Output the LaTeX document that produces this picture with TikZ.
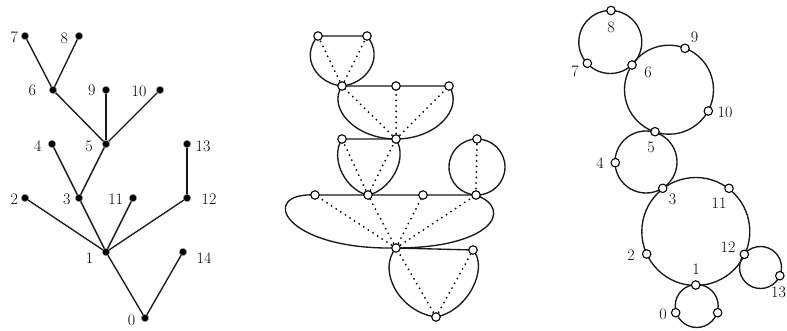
\documentclass[tikz,border=0pt]{standalone}
\begin{document}
\begin{tikzpicture}[x=1pt,y=-1pt,
  bdot/.style={circle,fill=black,draw=black!35,line width=0.5pt,inner sep=0pt,minimum size=7.5pt},
  wdot/.style={circle,fill=white,draw=black,line width=1.1pt,inner sep=0pt,minimum size=8.5pt},
  lab/.style={inner sep=0pt,font=\fontsize{16}{16}\selectfont},
  edge/.style={line width=1.35pt,black!90},
  dot/.style={line width=2pt,dash pattern=on 0pt off 5.5pt,line cap=round,black},
  line join=round]
\useasboundingbox (0,0) rectangle (787,331);
% ---------- left tree ----------
\coordinate (t7) at (25,36);
\coordinate (t8) at (79,36);
\coordinate (t6) at (53,90);
\coordinate (t9) at (106,90);
\coordinate (t10) at (160,90);
\coordinate (t5) at (106,144);
\coordinate (t4) at (52,144);
\coordinate (t13) at (187,144);
\coordinate (t2) at (25,198);
\coordinate (t3) at (79,198);
\coordinate (t11) at (133,198);
\coordinate (t12) at (187,198);
\coordinate (t1) at (106,252);
\coordinate (t14) at (183,252);
\coordinate (t0) at (145,318);
\foreach \a/\b in {7/6,8/6,6/5,9/5,10/5,5/3,4/3,3/1,2/1,11/1,12/1,13/12,1/0,14/0}
  \draw[edge] (t\a) -- (t\b);
\foreach \n in {0,...,14} \node[bdot] (nt\n) at (t\n) {};
\node[lab] (lt7) at (14.3,37.5) {7};
\node[lab] (lt8) at (64.3,38) {8};
\node[lab] (lt6) at (32.3,90.3) {6};
\node[lab] (lt9) at (91.7,90.3) {9};
\node[lab] (lt10) at (139,91) {10};
\node[lab] (lt4) at (37.7,146.3) {4};
\node[lab] (lt5) at (89,146.7) {5};
\node[lab] (lt13) at (203,146.7) {13};
\node[lab] (lt2) at (14.3,199.5) {2};
\node[lab] (lt3) at (66.7,199.5) {3};
\node[lab] (lt11) at (115.7,199.5) {11};
\node[lab] (lt12) at (209,199.5) {12};
\node[lab] (lt1) at (89.5,257.8) {1};
\node[lab] (lt14) at (204,257.8) {14};
\node[lab] (lt0) at (131.5,320) {0};
% ---------- middle ----------
\coordinate (A) at (318,36);
\coordinate (B) at (367,36);
\coordinate (C) at (342,86);
\coordinate (D) at (396,86);
\coordinate (E) at (449,86);
\coordinate (F) at (396,139);
\coordinate (G) at (342,139);
\coordinate (H) at (477,139);
\coordinate (I) at (315,195);
\coordinate (J) at (368,195);
\coordinate (K) at (423,195);
\coordinate (L) at (476,195);
\coordinate (M) at (396,248);
\coordinate (N) at (473,250);
\coordinate (O) at (436,317);
% dotted
\foreach \a/\b in {C/A,C/B,F/C,F/D,F/E,J/G,J/F,H/L,M/I,M/J,M/K,M/L,O/M,O/N}
  \draw[dot] (\a) -- (\b);
% solid
\draw[edge] (A) -- (B) .. controls (385,58) and (366,84) .. (C) .. controls (318,84) and (299,58) .. (A);
\draw[edge] (C) -- (D) -- (E) .. controls (464,108) and (437,139) .. (F) .. controls (355,139) and (327,108) .. (C);
\draw[edge] (G) -- (F) .. controls (409,160) and (389,191) .. (J) .. controls (347,191) and (329,160) .. (G);
\draw[edge] (477,167) circle (28);
\draw[edge] (I) -- (J) -- (K) -- (L) .. controls (515,210) and (490,248) .. (M) .. controls (282,250) and (258,192) .. (I);
\draw[edge] (M) -- (N) .. controls (489,268) and (468,311) .. (O) .. controls (399,312) and (377,270) .. (M);
\foreach \p in {A,B,C,D,E,F,G,H,I,J,K,L,M,N,O}
  \node[wdot] (m\p) at (\p) {};
% ---------- right ----------
\draw[edge] (610.3,42) circle (31.5);
\draw[edge] (669,89.7) circle (44.5);
\draw[edge] (646,162) circle (31);
\draw[edge] (695.8,231.5) circle (54);
\draw[edge] (696.7,306) circle (21.5);
\draw[edge] (760.5,267.5) circle (21);
\node[wdot] (r8) at (611,10.5) {};
\node[wdot] (r7) at (587.3,63.3) {};
\node[wdot] (r6) at (632,65) {};
\node[wdot] (r9) at (685,48.3) {};
\node[wdot] (r10) at (708.3,111) {};
\node[wdot] (r5) at (655,131.7) {};
\node[wdot] (r4) at (615.3,162.7) {};
\node[wdot] (r3) at (662.7,188.3) {};
\node[wdot] (r11) at (729,188.3) {};
\node[wdot] (r2) at (646.7,254) {};
\node[wdot] (r12) at (744.3,254.3) {};
\node[wdot] (r1) at (695.7,285) {};
\node[wdot] (r0) at (675.7,312.7) {};
\node[wdot] (r14) at (717.7,312.7) {};
\node[wdot] (r13) at (779.8,275.7) {};
\node[lab] (lr8) at (611,27) {8};
\node[lab] (lr7) at (575,71) {7};
\node[lab] (lr6) at (648,72) {6};
\node[lab] (lr9) at (694.5,37) {9};
\node[lab] (lr10) at (725,112) {10};
\node[lab] (lr5) at (651,147) {5};
\node[lab] (lr4) at (600,163) {4};
\node[lab] (lr3) at (672.5,199) {3};
\node[lab] (lr11) at (719,203) {11};
\node[lab] (lr2) at (631,255) {2};
\node[lab] (lr12) at (728,247) {12};
\node[lab] (lr1) at (696,269) {1};
\node[lab] (lr0) at (663,314) {0};
\node[lab] (lr13) at (778.5,292) {13};
\end{tikzpicture}
\end{document}
